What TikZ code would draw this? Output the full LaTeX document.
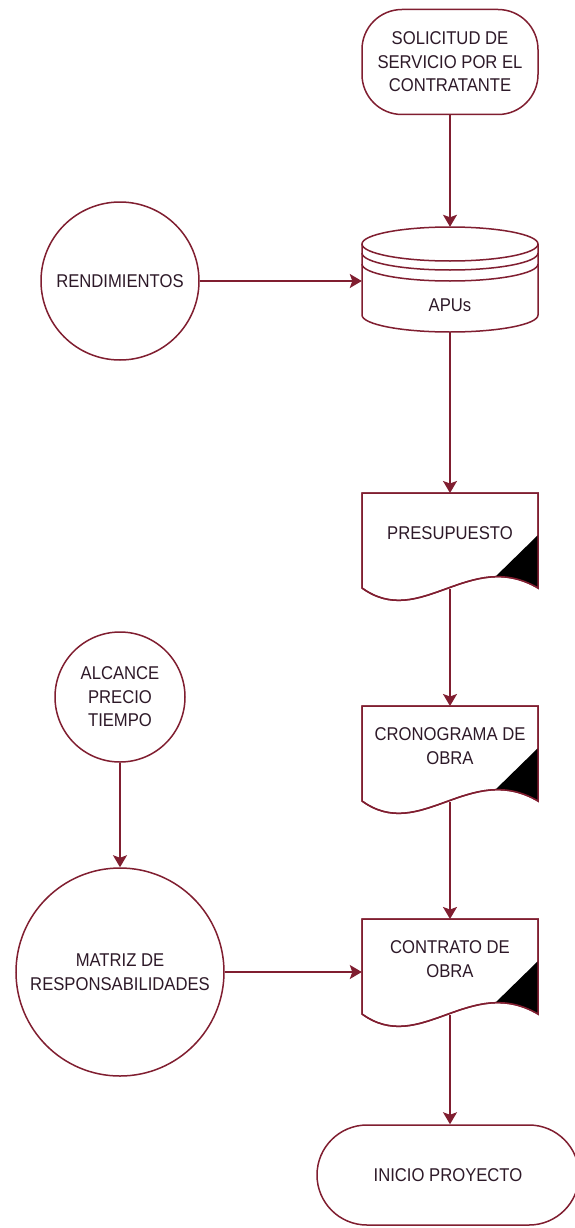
\documentclass[tikz,border=0pt]{standalone}
\usepackage{fontspec}
\setmainfont{Liberation Sans}[FakeStretch=0.9]
\usetikzlibrary{arrows.meta}
\definecolor{ln}{RGB}{128,30,48}
\definecolor{tx}{RGB}{45,25,40}
\tikzset{
  txt/.style={text=tx, font=\fontsize{18.5}{23.5}\selectfont, align=center, inner sep=0pt},
  base/.style={txt, draw=ln, line width=1.5pt, fill=white},
  term/.style={base, rounded corners=40pt, minimum width=176pt, minimum height=105pt},
  circ/.style={base, circle},
  hidden/.style={draw=none, fill=none, inner sep=0pt},
  outline/.style={draw=ln, line width=1.5pt},
  conn/.style={draw=ln, line width=1.5pt, -{Stealth[length=12pt,width=14pt,inset=2.5pt]}},
}
\newcommand\docnode[4]{%
  \node[hidden, minimum width=176pt, minimum height=96pt, anchor=north] (#1) at (#2,#3) {};
  \begin{scope}[shift={(#1.north)}]
    \path[outline, fill=white] (-88,0) -- (88,0) -- (88,-95) .. controls (20,-55) and (-30,-137) .. (-88,-95) -- cycle;
    \begin{scope}
      \clip (-88,0) -- (88,0) -- (88,-95) .. controls (20,-55) and (-30,-137) .. (-88,-95) -- cycle;
      \fill[black] (88,-42) -- (43,-86) -- (43,-150) -- (120,-150) -- (120,-42) -- cycle;
    \end{scope}
    \path[outline] (-88,0) -- (88,0) -- (88,-95) .. controls (20,-55) and (-30,-137) .. (-88,-95) -- cycle;
    \node[txt] (#1t) at (0,-40) {#4};
  \end{scope}
}
\begin{document}
\begin{tikzpicture}[x=1pt,y=1pt]
  \fill[white] (0,0) rectangle (574,-1228);
  \useasboundingbox (0,0) rectangle (574,-1228);

  % terminator
  \node[term] (sol) at (450,-62) {SOLICITUD DE\\SERVICIO POR EL\\CONTRATANTE};

  % cylinder APUs
  \node[hidden, minimum width=176pt, minimum height=105pt] (apu) at (450,-279.5) {};
  \path[fill=white] (362,-244) -- (362,-315) arc[start angle=180, end angle=360, x radius=88pt, y radius=17pt] -- (538,-244) -- cycle;
  \draw[outline] (362,-244) -- (362,-315) arc[start angle=180, end angle=360, x radius=88pt, y radius=17pt] -- (538,-244);
  \draw[outline] (450,-244) ellipse [x radius=88pt, y radius=17pt];
  \draw[outline] (362,-253) arc[start angle=180, end angle=360, x radius=88pt, y radius=17pt];
  \draw[outline] (362,-264) arc[start angle=180, end angle=360, x radius=88pt, y radius=17pt];
  \node[txt] (aput) at (450,-305) {APUs};

  % documents
  \docnode{pres}{450}{-493}{PRESUPUESTO}
  \docnode{cro}{450}{-706}{CRONOGRAMA DE\\OBRA}
  \docnode{con}{450}{-919}{CONTRATO DE\\OBRA}

  % end terminator
  \node[term, rounded corners=50pt, minimum width=262pt, minimum height=100pt] (ini) at (448,-1175) {INICIO PROYECTO};

  % circles
  \node[circ, minimum size=158pt] (ren) at (120,-281) {RENDIMIENTOS};
  \node[circ, minimum size=130pt] (alc) at (120,-697) {ALCANCE\\PRECIO\\TIEMPO};
  \node[circ, minimum size=208pt] (mat) at (120,-972) {MATRIZ DE\\RESPONSABILIDADES};

  % connectors
  \draw[conn] (sol.south) -- (apu.north);
  \draw[conn] (apu.south) -- (pres.north);
  \draw[conn] (pres.south) -- (cro.north);
  \draw[conn] (cro.south) -- (con.north);
  \draw[conn] (con.south) -- (con.south |- ini.north);
  \draw[conn] (ren.east) -- (ren.east -| apu.west);
  \draw[conn] (alc.south) -- (mat.north);
  \draw[conn] (mat.east) -- (mat.east -| con.west);
\end{tikzpicture}
\end{document}
